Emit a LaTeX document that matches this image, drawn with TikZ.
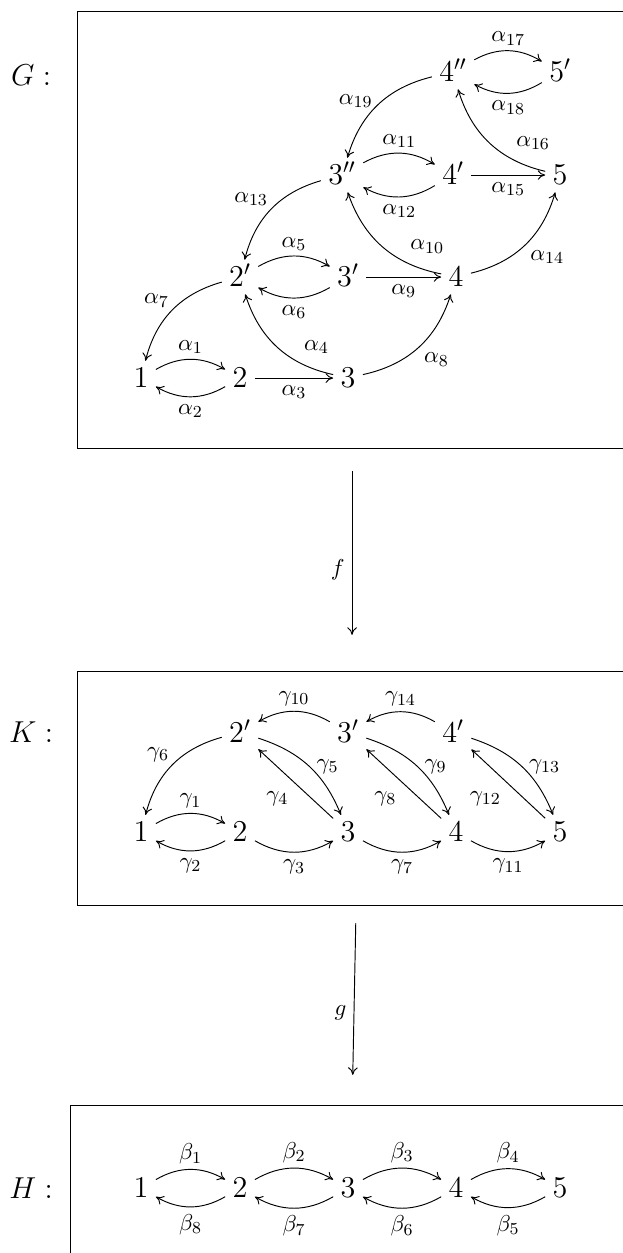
\documentclass[tikz,border=0pt]{standalone}
\usepackage{amsmath,amssymb}
\usetikzlibrary{arrows.meta}
\begin{document}
\begin{tikzpicture}[font=\fontsize{10.95}{13}\selectfont,line width=0.45pt,
  >={Computer Modern Rightarrow[length=3.6pt,width=4.6pt]},
  vtx/.style={font=\Large,text height=9.3pt,text depth=0pt},
  ttl/.style={font=\Large}]
\useasboundingbox (0,0) rectangle (10.42,-20.96);
%frames
\draw (10.42,-0.184) -- (1.297,-0.184) -- (1.297,-7.495) -- (10.42,-7.495);
\draw (10.42,-11.226) -- (1.297,-11.226) -- (1.297,-15.14) -- (10.42,-15.14);
\draw (10.42,-18.50) -- (1.171,-18.50) -- (1.171,-20.96);
\path[every node/.style={ttl}]
(0.519,-1.255) node (G) {$G:$}
(0.519,-12.25) node (K) {$K:$}
(0.519,-19.875) node (H) {$H:$};
%G
\path[every node/.style={vtx}]
(2.359,-6.324) node (g1) {$1$}
(4.015,-6.324) node (g2) {$2$}
(5.822,-6.324) node (g3) {$3$}
(4.015,-4.634) node (g2p) {$2'$}
(5.822,-4.634) node (g3p) {$3'$}
(7.629,-4.634) node (g4) {$4$}
(5.722,-2.928) node (g3pp) {$3''$}
(7.579,-2.928) node (g4p) {$4'$}
(9.369,-2.928) node (g5) {$5$}
(7.579,-1.205) node (g4pp) {$4''$}
(9.369,-1.205) node (g5p) {$5'$};
\draw[->] (g1) to[bend left] node[above=-1pt] {$\alpha_{1}$} (g2);
\draw[->] (g2) to[bend left] node[below] {$\alpha_{2}$} (g1);
\draw[->] (g2) to node[below] {$\alpha_{3}$} (g3);
\draw[->] (g3) to[bend left] node[above right,pos=0.3] {$\alpha_{4}$} (g2p);
\draw[->] (g2p) to[bend left] node[above=-1pt] {$\alpha_{5}$} (g3p);
\draw[->] (g3p) to[bend left] node[below] {$\alpha_{6}$} (g2p);
\draw[->] (g2p) to[bend right] node[above left=-2pt] {$\alpha_{7}$} (g1);
\draw[->] (g3) to[bend right] node[below right=-1pt] {$\alpha_{8}$} (g4);
\draw[->] (g3p) to node[below] {$\alpha_{9}$} (g4);
\draw[->] (g4) to[bend left] node[above right,pos=0.3] {$\alpha_{10}$} (g3pp);
\draw[->] (g3pp) to[bend left] node[above=-1pt] {$\alpha_{11}$} (g4p);
\draw[->] (g4p) to[bend left] node[below] {$\alpha_{12}$} (g3pp);
\draw[->] (g3pp) to[bend right] node[above left=-2pt] {$\alpha_{13}$} (g2p);
\draw[->] (g4) to[bend right] node[below right=-1pt] {$\alpha_{14}$} (g5);
\draw[->] (g4p) to node[below] {$\alpha_{15}$} (g5);
\draw[->] (g5) to[bend left] node[above right,pos=0.3] {$\alpha_{16}$} (g4pp);
\draw[->] (g4pp) to[bend left] node[above=-1pt] {$\alpha_{17}$} (g5p);
\draw[->] (g5p) to[bend left] node[below] {$\alpha_{18}$} (g4pp);
\draw[->] (g4pp) to[bend right] node[above left=-3pt,pos=0.55] {$\alpha_{19}$} (g3pp);
%f
\coordinate (fs) at (5.889,-7.88);
\coordinate (fe) at (5.889,-10.62);
\draw[->] (fs) -- node[left,pos=0.6] {$f$} (fe);
%K
\path[every node/.style={vtx}]
(2.359,-13.92) node (k1) {$1$}
(4.015,-13.92) node (k2) {$2$}
(5.822,-13.92) node (k3) {$3$}
(7.629,-13.92) node (k4) {$4$}
(9.369,-13.92) node (k5) {$5$}
(4.015,-12.25) node (k2p) {$2'$}
(5.822,-12.25) node (k3p) {$3'$}
(7.579,-12.25) node (k4p) {$4'$};
\draw[->] (k1) to[bend left] node[above=-1pt] {$\gamma_{1}$} (k2);
\draw[->] (k2) to[bend left] node[below] {$\gamma_{2}$} (k1);
\draw[->] (k2) to[bend right] node[below] {$\gamma_{3}$} (k3);
\draw[->] (k3) to node[below left] {$\gamma_{4}$} (k2p);
\draw[->] (k2p) to[bend left=25] node[right] {$\gamma_{5}$} (k3);
\draw[->] (k2p) to[bend right] node[above left=-2pt] {$\gamma_{6}$} (k1);
\draw[->] (k3) to[bend right] node[below] {$\gamma_{7}$} (k4);
\draw[->] (k4) to node[below left] {$\gamma_{8}$} (k3p);
\draw[->] (k3p) to[bend left=25] node[right] {$\gamma_{9}$} (k4);
\draw[->] (k3p) to[bend right] node[above=-1pt] {$\gamma_{10}$} (k2p);
\draw[->] (k4) to[bend right] node[below] {$\gamma_{11}$} (k5);
\draw[->] (k5) to node[below left] {$\gamma_{12}$} (k4p);
\draw[->] (k4p) to[bend left=25] node[right] {$\gamma_{13}$} (k5);
\draw[->] (k4p) to[bend right] node[above=-1pt] {$\gamma_{14}$} (k3p);
%g
\coordinate (gs) at (5.951,-15.44);
\coordinate (ge) at (5.901,-17.98);
\draw[->] (gs) -- node[left,pos=0.59] {$g$} (ge);
%H
\path[every node/.style={vtx}]
(2.359,-19.875) node (h1) {$1$}
(4.015,-19.875) node (h2) {$2$}
(5.822,-19.875) node (h3) {$3$}
(7.629,-19.875) node (h4) {$4$}
(9.369,-19.875) node (h5) {$5$};
\draw[->] (h1) to[bend left] node[above=-1pt] {$\beta_{1}$} (h2);
\draw[->] (h2) to[bend left] node[above=-1pt] {$\beta_{2}$} (h3);
\draw[->] (h3) to[bend left] node[above=-1pt] {$\beta_{3}$} (h4);
\draw[->] (h4) to[bend left] node[above=-1pt] {$\beta_{4}$} (h5);
\draw[->] (h5) to[bend left] node[below] {$\beta_{5}$} (h4);
\draw[->] (h4) to[bend left] node[below] {$\beta_{6}$} (h3);
\draw[->] (h3) to[bend left] node[below] {$\beta_{7}$} (h2);
\draw[->] (h2) to[bend left] node[below] {$\beta_{8}$} (h1);
\end{tikzpicture}
\end{document}
